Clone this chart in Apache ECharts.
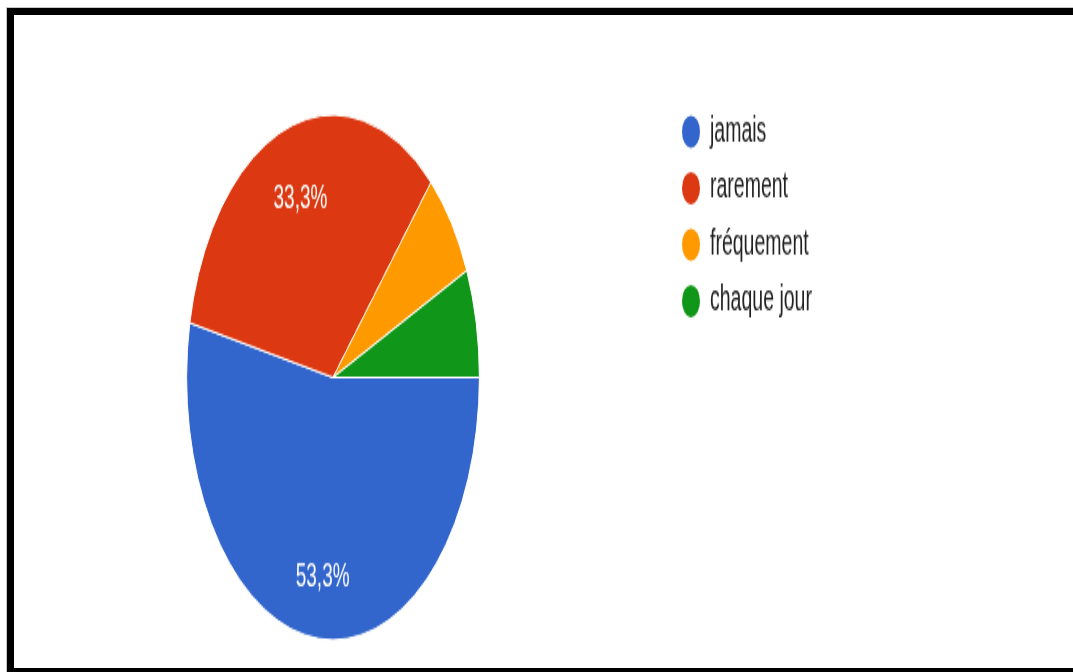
<!DOCTYPE html>
<html>
<head>
<meta charset="utf-8">
<script src="https://cdn.jsdelivr.net/npm/echarts@6/dist/echarts.min.js"></script>
<style>
  html, body { margin: 0; padding: 0; background: #fff; overflow: hidden; }
  #frame {
    position: absolute; left: 7px; top: 8px; width: 1200px; height: 667px;
    box-sizing: border-box; border: 7px solid #000; box-shadow: 0 0 0 1px #c8c8c8;
  }
  /* chart is drawn flat, then stretched vertically */
  #chart {
    position: absolute; left: 0; top: 0; width: 1073px; height: 375px;
    transform: scaleY(1.793); transform-origin: 0 0;
  }
</style>
</head>
<body>
<div id="frame"></div>
<div id="chart"></div>
<script>
const categories = ['jamais', 'rarement', 'fréquement', 'chaque jour'];
const counts = [8, 5, 1, 1];
const colors = ['#3366cc', '#dc3912', '#ff9900', '#109618'];

const sliceData = categories.map((name, i) => ({ name, value: counts[i] }));

const chart = echarts.init(document.getElementById('chart'), null, { renderer: 'canvas' });
chart.setOption({
  animation: false,
  color: colors,
  legend: {
    orient: 'vertical',
    left: 680,
    top: 62.4,
    padding: 0,
    icon: 'circle',
    itemWidth: 20,
    itemHeight: 20,
    itemGap: 9.5,
    selectedMode: false,
    data: categories,
    textStyle: {
      fontFamily: 'Liberation Sans, Arial, sans-serif',
      fontSize: 19.5,
      color: '#222',
      padding: [0, 0, 0, 4]
    }
  },
  series: [
    {
      type: 'pie',
      center: [333, 210.5],
      radius: [0, 146.4],
      startAngle: 0,
      clockwise: true,
      silent: true,
      label: { show: false },
      labelLine: { show: false },
      itemStyle: { borderColor: '#fff', borderWidth: 1 },
      data: sliceData
    },
    {
      // transparent ring used only to place the percentage labels
      type: 'pie',
      center: [333, 210.5],
      radius: [65, 146],
      startAngle: 0,
      clockwise: true,
      silent: true,
      percentPrecision: 1,
      itemStyle: { color: 'rgba(0,0,0,0)' },
      labelLine: { show: false },
      label: {
        show: true,
        position: 'inside',
        offset: [1, 3],
        color: '#fff',
        fontFamily: 'Liberation Sans, Arial, sans-serif',
        fontSize: 19,
        formatter: p => p.percent >= 10 ? p.percent.toFixed(1).replace('.', ',') + '%' : ''
      },
      data: sliceData
    }
  ]
});
</script>
</body>
</html>
